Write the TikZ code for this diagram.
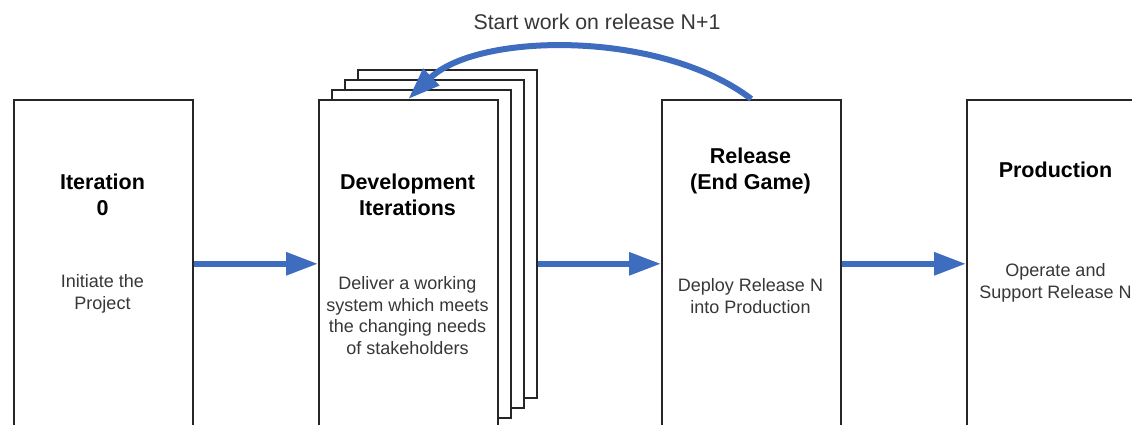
\documentclass[tikz,border=0pt]{standalone}
\usepackage{fontspec}
\setmainfont{Liberation Sans}
\usepackage{xcolor}
\usetikzlibrary{arrows.meta}
\usetikzlibrary{positioning}
\definecolor{flowblue}{RGB}{62,108,190}
\definecolor{bodygray}{RGB}{55,55,55}

\begin{document}
\begin{tikzpicture}[x=1pt, y=-1pt,
    phase/.style={draw=black!85, line width=1.6pt, fill=white, minimum width=179pt, minimum height=328pt, inner sep=0pt, anchor=north west},
    title/.style={font=\bfseries\fontsize{21.5}{26}\selectfont, align=center, inner sep=0pt},
    body/.style={font=\fontsize{18}{21.8}\selectfont, text=bodygray, align=center, inner sep=0pt},
    flow/.style={draw=flowblue, line width=6pt, -{Triangle[length=32pt, width=22pt]}}]
    \useasboundingbox (0,0) rectangle (1132,425);
    \clip (0,0) rectangle (1132,425);
    % phase boxes
    \node[phase] (iter) at (13,99) {};
    \foreach \i in {3,2,1} % stacked pages behind the development box
        \node[phase] (dev\i) at (318+13*\i, 99-10*\i) {};
    \node[phase] (dev) at (318,99) {};
    \node[phase] (rel) at (661,99) {};
    \node[phase] (prod) at (966,99) {};
    % titles and descriptions
    \node[title] (iterhead) at (102.5,195) {Iteration\\0};
    \node[body] (iterbody) at (102.5,293.5) {Initiate the\\Project};
    \node[title] (devhead) at (407.5,194.5) {Development\\Iterations};
    \node[body] (devbody) at (407.5,315.5) {Deliver a working\\system which meets\\the changing needs\\of stakeholders};
    \node[title] (relhead) at (750.5,171) {Release\\(End Game)};
    \node[body] (relbody) at (750.5,296) {Deploy Release N\\into Production};
    \node[title] (prodhead) at (1055.5,170) {Production};
    \node[body] (prodbody) at (1055.5,283) {Operate and\\Support Release N};
    % flow between phases
    \draw[flow] (iter.east) -- (dev.west);
    \draw[flow] (dev3.east |- dev.east) -- (rel.west);
    \draw[flow] (rel.east) -- (prod.west);
    \draw[flow] (rel.north) .. controls +(-90,-69) and +(70,-67) .. (dev.north); % loop back
    \node[body, font=\fontsize{21.3}{25}\selectfont] (loopnote) at (597,22) {Start work on release N+1};
\end{tikzpicture}
\end{document}
